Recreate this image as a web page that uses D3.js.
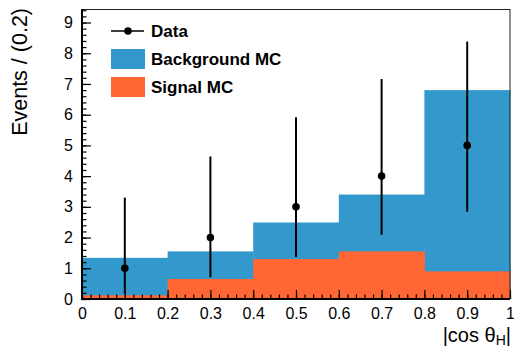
<!DOCTYPE html>
<html>
<head>
<meta charset="utf-8">
<script src="https://cdn.jsdelivr.net/npm/d3@7"></script>
<style>
  body { margin: 0; background: #fff; }
  svg { font-family: "Liberation Sans", Arial, Helvetica, sans-serif; }
  .axis path { display: none; }
  .axis line { stroke: #000; stroke-width: 1.2; }
  .axis text { font-size: 16px; fill: #000; }
</style>
</head>
<body>
<svg width="514" height="350"></svg>
<script>
// bins in |cos theta_H|
const binEdges = [0, 0.2, 0.4, 0.6, 0.8, 1.0];
const bgTotal = [1.34, 1.55, 2.49, 3.40, 6.80];   // background MC (stack top)
const signalMC = [0.12, 0.65, 1.30, 1.55, 0.90];
const dataX = [0.1, 0.3, 0.5, 0.7, 0.9];
const dataY = [1, 2, 3, 4, 5];
const errLo = [0.17, 0.71, 1.37, 2.09, 2.84];
const errHi = [3.30, 4.64, 5.92, 7.16, 8.38];

const xTicks = [0, 0.1, 0.2, 0.3, 0.4, 0.5, 0.6, 0.7, 0.8, 0.9, 1];
const yTicks = [0, 1, 2, 3, 4, 5, 6, 7, 8, 9];

const bgColor = "#3399cc";
const sigColor = "#ff6633";

var svg = d3.select("svg");
const margin = { top: 9, right: 4, bottom: 51, left: 82 };
const width = 514 - margin.left - margin.right,
    height = 350 - margin.top - margin.bottom;

var g = svg.append("g")
    .attr("transform", `translate(${margin.left},${margin.top})`);

var x = d3.scaleLinear().domain([0, 1]).range([0, width]);
var y = d3.scaleLinear().domain([0, 9.44]).range([height, 0]);

const bins = bgTotal.map((v, i) => ({ x0: binEdges[i], x1: binEdges[i + 1], bg: v, sig: signalMC[i] }));

// background histogram
g.selectAll(".bg").data(bins).enter().append("rect")
    .attr("class", "bg")
    .attr("x", d => x(d.x0))
    .attr("width", d => x(d.x1) - x(d.x0) + 0.5)
    .attr("y", d => y(d.bg))
    .attr("height", d => y(0) - y(d.bg))
    .attr("fill", bgColor);

// signal histogram
g.selectAll(".sig").data(bins).enter().append("rect")
    .attr("class", "sig")
    .attr("x", d => x(d.x0))
    .attr("width", d => x(d.x1) - x(d.x0) + 0.5)
    .attr("y", d => y(d.sig))
    .attr("height", d => y(0) - y(d.sig))
    .attr("fill", sigColor);

// axes: ticks pointing inward
var xAxis = d3.axisBottom(x)
    .tickValues(xTicks)
    .tickFormat(d => d3.format("~g")(d))
    .tickSizeInner(-9).tickSizeOuter(0)
    .tickPadding(8.5);
var xMinor = d3.axisBottom(x)
    .tickValues(d3.range(0, 1.0001, 0.02))
    .tickFormat("")
    .tickSizeInner(-4.5).tickSizeOuter(0);
var yAxis = d3.axisLeft(y)
    .tickValues(yTicks)
    .tickSizeInner(-9).tickSizeOuter(0)
    .tickPadding(9);
var yMinor = d3.axisLeft(y)
    .tickValues(d3.range(0, 9.41, 0.2))
    .tickFormat("")
    .tickSizeInner(-4.5).tickSizeOuter(0);

g.append("g").attr("class", "axis").attr("transform", `translate(0,${height})`).call(xMinor);
g.append("g").attr("class", "axis").attr("transform", `translate(0,${height})`).call(xAxis);
g.append("g").attr("class", "axis").call(yMinor);
g.append("g").attr("class", "axis").call(yAxis);

// data points with error bars
const pts = dataX.map((v, i) => ({ x: v, y: dataY[i], lo: errLo[i], hi: errHi[i] }));
g.selectAll(".err").data(pts).enter().append("line")
    .attr("class", "err")
    .attr("x1", d => x(d.x)).attr("x2", d => x(d.x))
    .attr("y1", d => y(d.lo)).attr("y2", d => y(d.hi))
    .attr("stroke", "#000").attr("stroke-width", 2);
g.selectAll(".pt").data(pts).enter().append("circle")
    .attr("class", "pt")
    .attr("cx", d => x(d.x)).attr("cy", d => y(d.y))
    .attr("r", 3.8).attr("fill", "#000");

// frame
g.append("line").attr("x1", 0).attr("x2", width).attr("y1", 0.5).attr("y2", 0.5)
    .attr("stroke", "#222").attr("stroke-width", 1);
g.append("line").attr("x1", width).attr("x2", width).attr("y1", 0).attr("y2", height)
    .attr("stroke", "#222").attr("stroke-width", 1);
g.append("line").attr("x1", 0).attr("x2", 0).attr("y1", 0).attr("y2", height + 1)
    .attr("stroke", "#000").attr("stroke-width", 2);
g.append("line").attr("x1", 0).attr("x2", width).attr("y1", height).attr("y2", height)
    .attr("stroke", "#000").attr("stroke-width", 2);

// axis titles
svg.append("text")
    .attr("transform", "translate(27,8) rotate(-90)")
    .attr("text-anchor", "end")
    .style("font-size", "21.5px")
    .text("Events / (0.2)");

var xt = svg.append("text")
    .attr("x", 511).attr("y", 342)
    .attr("text-anchor", "end")
    .style("font-size", "20px");
xt.append("tspan").text("|cos θ");
xt.append("tspan").attr("dy", 3).style("font-size", "14px").text("H");
xt.append("tspan").attr("dy", -3).text("|");

// legend
var leg = svg.append("g").attr("transform", "translate(111,31)");
leg.append("line").attr("x1", 0).attr("x2", 33).attr("y1", 0).attr("y2", 0)
    .attr("stroke", "#000").attr("stroke-width", 1.5);
leg.append("circle").attr("cx", 17).attr("cy", 0).attr("r", 3.8).attr("fill", "#000");
leg.append("rect").attr("x", 0).attr("y", 18).attr("width", 34).attr("height", 20).attr("fill", bgColor);
leg.append("rect").attr("x", 0).attr("y", 46).attr("width", 34).attr("height", 20).attr("fill", sigColor);
const legLabels = ["Data", "Background MC", "Signal MC"];
leg.selectAll(".lt").data(legLabels).enter().append("text")
    .attr("class", "lt")
    .attr("x", 40)
    .attr("y", (d, i) => [0, 28, 56][i])
    .attr("dy", "0.36em")
    .style("font-size", "17px")
    .style("font-weight", "bold")
    .text(d => d);
</script>
</body>
</html>
